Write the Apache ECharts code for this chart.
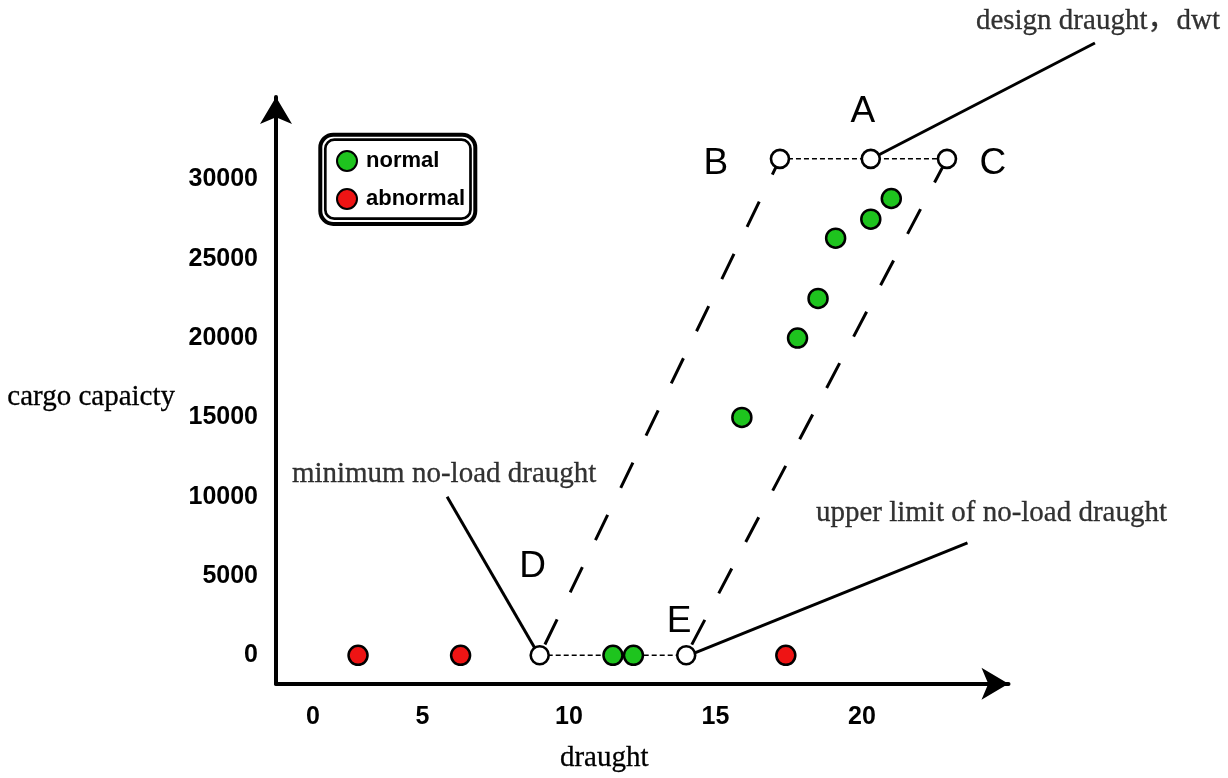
<!DOCTYPE html>
<html>
<head>
<meta charset="utf-8">
<script src="https://cdn.jsdelivr.net/npm/echarts@6/dist/echarts.min.js"></script>
<style>html,body{margin:0;padding:0;background:#fff;}#chart{width:1228px;height:778px;}</style>
</head>
<body>
<div id="chart"></div>
<script>
// ---- data ----
const xTicks = [0, 5, 10, 15, 20];
const yTicks = [0, 5000, 10000, 15000, 20000, 25000, 30000];
const normalData = [[11.5, 0], [12.2, 0], [15.9, 15000], [17.8, 20000], [18.5, 22500], [19.1, 26300], [20.3, 27500], [21.0, 28800]];
const abnormalData = [[2.8, 0], [6.3, 0], [17.4, 0]];
const keyNames = ['A', 'B', 'C', 'D', 'E'];
const keyValues = [[20.3, 31300], [17.2, 31300], [22.9, 31300], [9.0, 0], [14.0, 0]];
const envelopes = [['D', 'B'], ['E', 'C']];
const dottedLinks = [['D', 'E'], ['B', 'C']];
const annoTexts = ['design draught，dwt', 'minimum no-load draught', 'upper limit of no-load draught'];
const annoFrom = ['A', 'D', 'E'];
const annoTo = [[27.95, 38600], [5.84, 10040], [23.6, 7140]];

// ---- layout / styling (not data) ----
const SANS = 'Liberation Sans, Arial, sans-serif';
const SERIF = 'Liberation Serif, Times New Roman, "Noto Sans CJK SC", serif';
const X0 = 276, Y0 = 685, PXX = 29.3;             // origin of axes and px per draught unit
const YMIN = -1800, YMAX = 35200, PLOT_H = 588;    // y extent and plot height
const PXY = PLOT_H / (YMAX - YMIN);
const XMAX = 25, X2MAX = 32, Y2MAX = 40000;        // outer helper grid for annotations
const letterOffsets = { A: [-8, -47], B: [-64, 5], C: [46, 5], D: [-7, -89], E: [-7, -34] };
const annoOffsets = [[3, -7], [-3, -7], [24, -15]];

const key = n => keyValues[keyNames.indexOf(n)];

const chart = echarts.init(document.getElementById('chart'), null, { renderer: 'canvas' });

const series = [];
envelopes.forEach(([a, b]) => series.push({
  type: 'line', data: [key(a), key(b)], showSymbol: false, symbol: 'none', silent: true, clip: false, z: 1,
  lineStyle: { color: '#000', width: 3, type: [28, 30], dashOffset: 46 }
}));
dottedLinks.forEach(([a, b]) => series.push({
  type: 'line', data: [key(a), key(b)], symbol: 'none', silent: true, clip: false, z: 1,
  lineStyle: { color: '#000', width: 1.5, type: [5, 3] }
}));
annoFrom.forEach((f, i) => series.push({
  type: 'line', xAxisIndex: 1, yAxisIndex: 1, data: [key(f), annoTo[i]], symbol: 'none', silent: true, clip: false, z: 1,
  lineStyle: { color: '#000', width: 3 }
}));
series.push({
  type: 'scatter', xAxisIndex: 1, yAxisIndex: 1, silent: true, clip: false, z: 2, symbolSize: 1,
  itemStyle: { color: 'rgba(255,255,255,0)' },
  data: annoTo.map((p, i) => ({
    value: p,
    label: { show: true, position: 'top', distance: 0, offset: annoOffsets[i], formatter: annoTexts[i],
      fontFamily: SERIF, fontSize: 29, color: '#000', textBorderColor: '#000', textBorderWidth: 0.3 }
  }))
});
series.push({
  name: 'normal', type: 'scatter', data: normalData, symbol: 'circle', symbolSize: 19, clip: false, z: 5,
  itemStyle: { color: '#1ec41e', borderColor: '#000', borderWidth: 2.5, opacity: 1 }
});
series.push({
  name: 'abnormal', type: 'scatter', data: abnormalData, symbol: 'circle', symbolSize: 19, clip: false, z: 5,
  itemStyle: { color: '#ee1414', borderColor: '#000', borderWidth: 2.5, opacity: 1 }
});
series.push({
  type: 'scatter', symbol: 'circle', symbolSize: 18, clip: false, z: 6, silent: true,
  itemStyle: { color: '#fff', borderColor: '#000', borderWidth: 2.6, opacity: 1 },
  data: keyNames.map((n, i) => ({
    value: keyValues[i], name: n,
    label: { show: true, position: 'inside', offset: letterOffsets[n], formatter: n,
      fontFamily: SANS, fontSize: 37, color: '#000' }
  }))
});

const hiddenAxis = { show: false, splitLine: { show: false } };
const option = {
  backgroundColor: '#fff',
  animation: false,
  grid: [
    { left: X0, top: Y0 - PLOT_H, width: XMAX * PXX, height: PLOT_H, containLabel: false },
    { left: X0, top: Y0 - (Y2MAX - YMIN) * PXY, width: X2MAX * PXX, height: (Y2MAX - YMIN) * PXY, containLabel: false }
  ],
  legend: {
    data: ['normal', 'abnormal'], orient: 'vertical', left: 336, top: 150, padding: 0,
    itemWidth: 28, itemHeight: 20, itemGap: 16, icon: 'circle', selectedMode: false,
    textStyle: { fontFamily: SANS, fontSize: 22, fontWeight: 'bold', color: '#000', lineHeight: 21 }
  },
  graphic: [
    { type: 'rect', shape: { x: 320.3, y: 134.7, width: 155, height: 89.3, r: 13 },
      style: { fill: 'none', stroke: '#000', lineWidth: 4 }, z: 10 },
    { type: 'rect', shape: { x: 325.3, y: 139.7, width: 145.2, height: 79, r: 9 },
      style: { fill: 'none', stroke: '#000', lineWidth: 2.7 }, z: 10 }
  ],
  xAxis: [{
    type: 'value', min: 0, max: XMAX, gridIndex: 0,
    name: 'draught', nameLocation: 'middle', nameGap: 60,
    nameTextStyle: { fontFamily: SERIF, fontSize: 29, color: '#000', padding: [0, 76, 0, 0], textBorderColor: '#000', textBorderWidth: 0.3 },
    axisLine: { show: true, onZero: false, symbol: ['none', 'arrow'], symbolSize: [24, 27],
      lineStyle: { color: '#000', width: 4 } },
    axisTick: { show: false },
    splitLine: { show: false },
    axisLabel: {
      customValues: xTicks, margin: 21,
      fontFamily: SANS, fontSize: 25, fontWeight: 'bold', color: '#000',
      formatter: v => (v === 0 ? '{z|0}' : String(v)),
      rich: { z: { padding: [0, 0, 0, 74], fontFamily: SANS, fontSize: 25, fontWeight: 'bold', color: '#000' } }
    }
  }, Object.assign({ type: 'value', min: 0, max: X2MAX, gridIndex: 1 }, hiddenAxis)],
  yAxis: [{
    type: 'value', min: YMIN, max: YMAX, gridIndex: 0,
    name: 'cargo capaicty', nameLocation: 'middle', nameGap: 101, nameRotate: 0,
    nameTextStyle: { fontFamily: SERIF, fontSize: 29, color: '#000', verticalAlign: 'top', lineHeight: 14,
      textBorderColor: '#000', textBorderWidth: 0.3 },
    axisLine: { show: true, onZero: false, symbol: ['none', 'arrow'], symbolSize: [24, 27],
      lineStyle: { color: '#000', width: 4 } },
    axisTick: { show: false },
    splitLine: { show: false },
    axisLabel: {
      customValues: yTicks, margin: 18, formatter: v => String(v),
      fontFamily: SANS, fontSize: 25, fontWeight: 'bold', color: '#000'
    }
  }, Object.assign({ type: 'value', min: YMIN, max: Y2MAX, gridIndex: 1 }, hiddenAxis)],
  series: series
};
chart.setOption(option);
</script>
</body>
</html>
